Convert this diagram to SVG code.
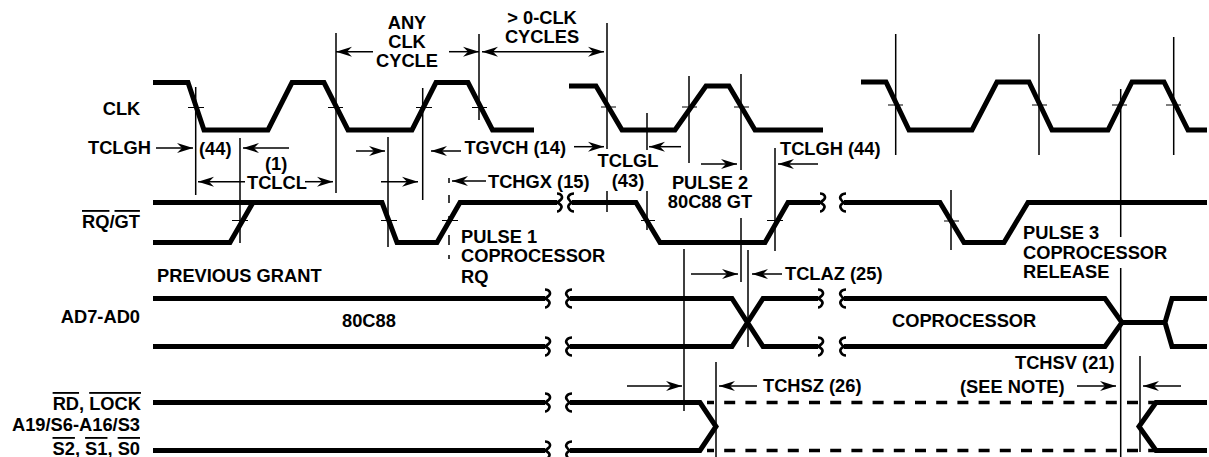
<svg xmlns="http://www.w3.org/2000/svg" width="1209" height="457" viewBox="0 0 1209 457">
<style>
.w{fill:none;stroke:#000;stroke-width:5;stroke-linejoin:miter}
.v{fill:none;stroke:#000;stroke-width:1.5}
.t{fill:none;stroke:#000;stroke-width:1.2}
.d{fill:none;stroke:#000;stroke-width:3.3;stroke-dasharray:11 10.2;stroke-dashoffset:4}
.ar{fill:none;stroke:#000;stroke-width:1.5;marker-end:url(#h)}
text{font-family:"Liberation Sans",Arial,sans-serif;font-weight:700;font-size:18.3px;fill:#000}
.m{text-anchor:middle}
.e{text-anchor:end}
.o{text-decoration:overline}
</style>
<defs>
<marker id="h" markerUnits="userSpaceOnUse" markerWidth="18" markerHeight="12" refX="16" refY="6" orient="auto" overflow="visible"><path d="M0,1 L16,6 L0,11 L5,6 Z" fill="#000"/></marker>
<path id="q" d="M0,-9 C5,-9 6,-5 4,-3 C2,-1 0,0 0,0 C2,1 6,3 4,6 C3,8 2,9 0,9" fill="none" stroke="#000" stroke-width="2.6"/>
<path id="r" d="M2,-9 C-3,-9 -5,-5 -3,-3 C-2,-1 0,0 0,0 C-2,1 -5,3 -3,6 C-2,8 0,9 2,9" fill="none" stroke="#000" stroke-width="2.6"/>
</defs>
<g id="waveforms">
<g id="clk"><path class="w" d="M153,82.5H188L204,130H268L292,82.5H324L348,130H412L436,82.5H468L492.500,130H534"/><path class="w" d="M569,86H596L622,130H675L706,86H729L755,130H823"/><path class="w" d="M861,82H886L909,130H972L997,82H1029L1052,130H1108L1132,82H1164L1188,130H1207"/></g>
<g id="rqgt"><path class="w" d="M153,242.500H230L253,202.500"/><path class="w" d="M153,202.500H382L397,242.500H437L460,202.500H557"/><path class="w" d="M572,202.500H636L660,242.500H765L788,202.500H820"/><path class="w" d="M844,202.500H940L964,242.500H1004L1028,202.500H1207"/></g>
<g id="ad"><path class="w" d="M153,298.500H545M153,346.500H545"/><path class="w" d="M570,298.500H732L763,346.500H818M570,346.500H732L763,298.500H818"/><path class="w" d="M844,298.500H1105L1122,322.500L1105,346.500H844M1122,322.500H1165L1172,298.500H1207M1165,322.500L1172,346.500H1207"/></g>
<g id="rd"><path class="w" d="M153,402.500H545M153,450.500H545"/><path class="w" d="M570,402.500H700L716,426.500L700,450.500H570"/><path class="d" d="M707,402.500H1155"/><path class="d" d="M707,450.500H1155"/><path class="w" d="M1207,402.500H1156L1139,426.500L1156,450.500H1207"/></g>
<g id="breaks"><use href="#q" x="557" y="202.500"/><use href="#r" x="572" y="202.500"/><use href="#q" x="820" y="202.500"/><use href="#r" x="844" y="202.500"/><use href="#q" x="545" y="298.500"/><use href="#r" x="570" y="298.500"/><use href="#q" x="545" y="346.500"/><use href="#r" x="570" y="346.500"/><use href="#q" x="818" y="298.500"/><use href="#r" x="844" y="298.500"/><use href="#q" x="818" y="346.500"/><use href="#r" x="844" y="346.500"/><use href="#q" x="545" y="402.500"/><use href="#r" x="570" y="402.500"/><use href="#q" x="545" y="450.500"/><use href="#r" x="570" y="450.500"/></g>
</g>
<g id="connectors">
<path class="v" d="M195.700,87V195M240,138V243M336,33V193M388,137V247M422.700,88V200M479,34V120M607,23V149M607,191V212M647,113V150M647,191V230M689,76V163M741,74V170M741,218V282M775,148V251M748,250V347M684,249V411M716,362V457M1120.700,89V237M1120.700,268V457M1140,356V452M895.700,34V155M1039,34V155M1173.700,37V155M951,190V250"/>
<path class="v" d="M449,178V183M449,195V203M449,216V224M449,235V245M449,255V259"/>
<path class="t" d="M188,107.500H204M328,107.500H343M416,107.500H432M472,107.500H487M601,107H616M682,107H697M734,107H749M888,105H903M1032,105H1047M1112,105H1127M1166,105H1181M232,220.500H248M381,220.500H397M442,220.500H458M641,220.500H655M767,220.500H783M944,221H959"/>
<path class="ar" d="M156,148H193"/><path class="ar" d="M289,148H243"/><path class="ar" d="M245,181.700H198"/><path class="ar" d="M305,181.700H333"/><path class="ar" d="M373,51.700H336"/><path class="ar" d="M449,51.700H479"/><path class="ar" d="M356,151H385"/><path class="ar" d="M461,151H431"/><path class="ar" d="M381,181.700H418"/><path class="ar" d="M486,181H452"/><path class="ar" d="M543,51.700H482"/><path class="ar" d="M543,51.700H604"/><path class="ar" d="M574,146.700H604"/><path class="ar" d="M681,146.700H649"/><path class="ar" d="M701,164H737"/><path class="ar" d="M818,164H778"/><path class="ar" d="M691,274H738"/><path class="ar" d="M782,274H752"/><path class="ar" d="M627,386H682"/><path class="ar" d="M757,386H719"/><path class="ar" d="M1077,386H1116"/><path class="ar" d="M1181,386H1143"/>
</g>
<g id="labels">
<text x="102.700" y="115">CLK</text>
<text x="88" y="154">TCLGH</text>
<text x="199" y="155">(44)</text>
<text x="265" y="169.500">(1)</text>
<text x="247" y="188.500">TCLCL</text>
<text class="m" x="407" y="29">ANY</text><text class="m" x="407" y="48">CLK</text><text class="m" x="407" y="67">CYCLE</text>
<text class="e" x="566" y="154">TGVCH (14)</text>
<text class="m" x="542" y="24">&gt; 0-CLK</text><text class="m" x="542" y="43">CYCLES</text>
<text class="m" x="628" y="167">TCLGL</text><text class="m" x="628" y="187">(43)</text>
<text x="488" y="188">TCHGX (15)</text>
<text class="m" x="710" y="189">PULSE 2</text><text class="m" x="710" y="208">80C88 GT</text>
<text x="780" y="155">TCLGH (44)</text>
<text x="82" y="228"><tspan class="o">RQ</tspan>/<tspan class="o">GT</tspan></text>
<text x="461" y="243">PULSE 1</text><text x="461" y="262">COPROCESSOR</text><text x="461" y="283">RQ</text>
<text x="157" y="282">PREVIOUS GRANT</text>
<text class="e" x="140" y="323">AD7-AD0</text>
<text x="342" y="327">80C88</text>
<text x="785" y="280">TCLAZ (25)</text>
<text x="892" y="327">COPROCESSOR</text>
<text x="1023" y="239">PULSE 3</text><text x="1023" y="258.500">COPROCESSOR</text><text x="1023" y="277.500">RELEASE</text>
<text x="1015" y="369">TCHSV (21)</text>
<text x="960" y="393">(SEE NOTE)</text>
<text x="763" y="392">TCHSZ (26)</text>
<text class="e" x="141" y="410"><tspan class="o">RD</tspan>, <tspan class="o">LOCK</tspan></text>
<text class="e" x="140" y="431">A19/S6-A16/S3</text>
<text class="e" x="140" y="455"><tspan class="o">S2</tspan>, <tspan class="o">S1</tspan>, <tspan class="o">S0</tspan></text>
</g>
</svg>
